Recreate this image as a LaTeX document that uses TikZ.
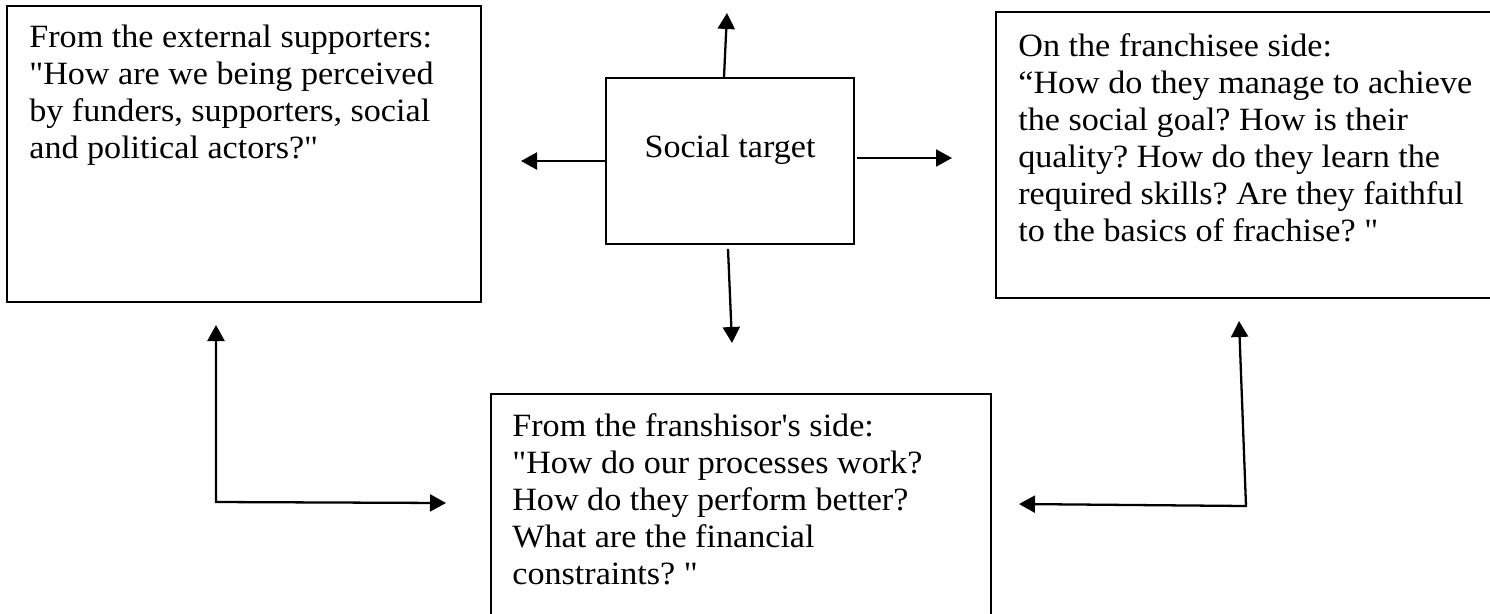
\documentclass[tikz,border=0pt]{standalone}
\usepackage{fontspec}
\usepackage{tikz}
\usetikzlibrary{arrows.meta}
\newfontfamily\boxfont{Liberation Serif}[FakeStretch=1.05]
\frenchspacing

\tikzset{
  qbox/.style={draw, line width=1.1pt, inner sep=0pt},
  qtext/.style={inner sep=0pt, anchor=base west, align=left,
    font=\boxfont\fontsize{18.5}{21}\selectfont},
  qarrow/.style={line width=1.3pt, -{Triangle[length=0.32cm,width=0.34cm]}},
  qboth/.style={line width=1.3pt,
    {Triangle[length=0.32cm,width=0.34cm]}-{Triangle[length=0.32cm,width=0.34cm]}}
}

\begin{document}
\begin{tikzpicture}[x=0.02cm,y=-0.02cm]
\path[use as bounding box, clip] (0,0) rectangle (1490,613);

% boxes
\node[qbox, minimum width=9.48cm, minimum height=5.92cm] (extbox) at (244,154) {};
\node[qbox, minimum width=10.08cm, minimum height=5.72cm] (franbox) at (1248,155) {};
\node[qbox, minimum width=4.96cm, minimum height=3.32cm] (socbox) at (730,161) {};
\node[qbox, minimum width=10cm, minimum height=4.92cm] (sorbox) at (741,517) {};

% texts (placed at the baseline of their last line)
\node[qtext] (exttext) at (29,158) {From the external supporters:\\
"How are we being perceived\\
by funders, supporters, social\\
and political actors?"};
\node[qtext] (frantext) at (1018,241) {On the franchisee side:\\
“How do they manage to achieve\\
the social goal? How is their\\
quality? How do they learn the\\
required skills? Are they faithful\\
to the basics of frachise? "};
\node[qtext] (sortext) at (512,584) {From the franshisor's side:\\
"How do our processes work?\\
How do they perform better?\\
What are the financial\\
constraints? "};
\node[qtext, anchor=base] (soctext) at (730,157) {Social target};

% arrows out of the social target
\coordinate (upend) at (727,13);
\coordinate (leftend) at (521,161);
\coordinate (rightend) at (952,158);
\coordinate (downend) at (732,343);
\draw[qarrow] (socbox.north -| 724,0) -- (upend);
\draw[qarrow] (socbox.west |- 0,161) -- (leftend);
\draw[qarrow] ([xshift=0.04cm]socbox.east |- 0,158) -- (rightend);
\draw[qarrow] ([yshift=-0.08cm]socbox.south -| 728,0) -- (downend);

% corner arrows
\coordinate (lup) at (216,325);
\coordinate (lcorner) at (216,502);
\coordinate (lright) at (446,503);
\draw[qboth] (lup) -- (lcorner) -- (lright);

\coordinate (rup) at (1239,321);
\coordinate (rcorner) at (1246,506);
\coordinate (rleft) at (1019,504);
\draw[qboth] (rup) -- (rcorner) -- (rleft);
\end{tikzpicture}
\end{document}
